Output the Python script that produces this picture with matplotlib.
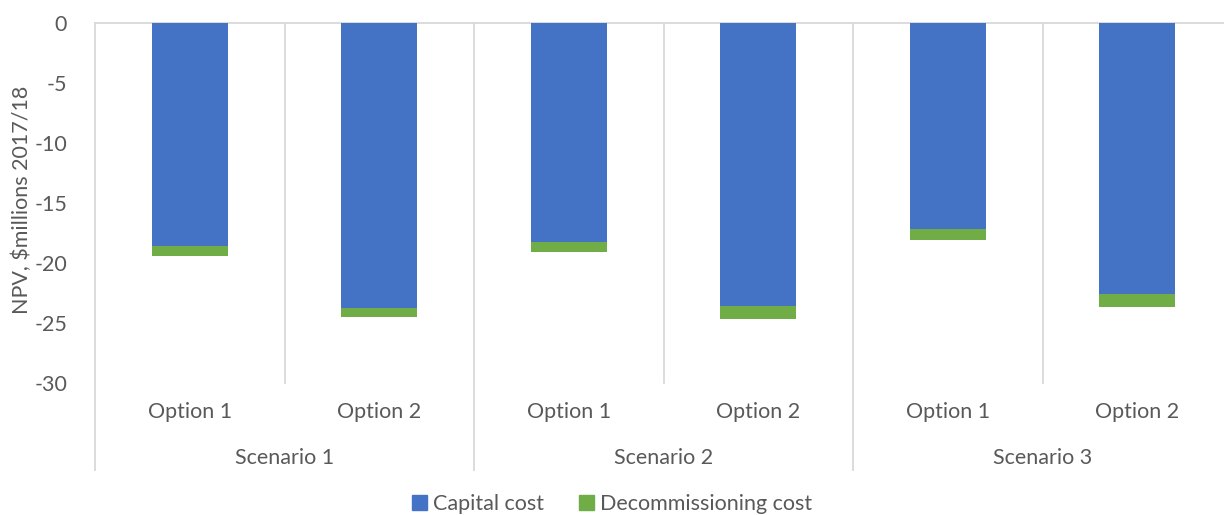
import matplotlib
matplotlib.use("Agg")
import matplotlib.pyplot as plt
from matplotlib.patches import Patch

plt.rcParams['font.family'] = ['Lato', 'DejaVu Sans']
plt.rcParams['axes.unicode_minus'] = False

# donnees
scenarios = ["Scenario 1", "Scenario 2", "Scenario 3"]
options = ["Option 1", "Option 2"]
capital_cost = [-18.6, -23.75, -18.25, -23.6, -17.2, -22.6]
decommissioning_cost = [-0.8, -0.75, -0.85, -1.05, -0.9, -1.05]
yticks = [0, -5, -10, -15, -20, -25, -30]

bleu = "#4472C4"
vert = "#70AD47"
gris_txt = "#595959"
gris_ligne = "#D9D9D9"
taille = 15.5

W, H = 1224, 515
fig = plt.figure(figsize=(W / 100, H / 100), dpi=100)
# axes de x=95 a x=1232 px, y=23 a 383 px
ax = fig.add_axes([95 / W, 1 - 383 / H, (1232 - 95) / W, 360 / H])

n = len(capital_cost)
x = list(range(n))
ax.bar(x, capital_cost, width=0.4, color=bleu, zorder=3)
ax.bar(x, decommissioning_cost, width=0.4, bottom=capital_cost, color=vert, zorder=3)

ax.set_xlim(-0.5, n - 0.5)
ax.set_ylim(-30, 0)
ax.set_yticks(yticks)
ax.set_yticklabels([str(v) for v in yticks], fontsize=taille, color=gris_txt)
ax.tick_params(axis='y', length=0, pad=20)
ax.set_xticks([])
for s in ax.spines.values():
    s.set_visible(False)

ax.set_ylabel("NPV, $millions 2017/18", fontsize=taille, color=gris_txt)
ax.yaxis.set_label_coords(-63 / 1137, 0.5 + 3 / 360)

tr = ax.get_xaxis_transform()
# ligne du zero
ax.plot([-0.5, n - 0.5], [1, 1], transform=tr, color=gris_ligne, lw=1.3, clip_on=False, zorder=2)
# separateurs
bas = -(470 - 383) / 360
ax.plot([-0.5, -0.5], [1, bas], transform=tr, color=gris_ligne, lw=1.3, clip_on=False)
for i in range(1, n):
    if i % 2 == 0:
        ax.plot([i - 0.5, i - 0.5], [1, bas], transform=tr, color=gris_ligne, lw=1.3, clip_on=False)
    else:
        ax.plot([i - 0.5, i - 0.5], [1, 0], transform=tr, color=gris_ligne, lw=1.3, clip_on=False)

# etiquettes options et scenarios
for i in range(n):
    ax.text(i, -(412 - 383) / 360, options[i % 2], transform=tr, ha='center', va='center',
            fontsize=taille, color=gris_txt)
for j, sc in enumerate(scenarios):
    ax.text(2 * j + 0.5, -(458 - 383) / 360, sc, transform=tr, ha='center', va='center',
            fontsize=taille, color=gris_txt)

handles = [Patch(color=bleu, label="Capital cost"), Patch(color=vert, label="Decommissioning cost")]
fig.legend(handles=handles, loc='center', bbox_to_anchor=(612 / W, 1 - 504 / H), ncol=2,
           frameon=False, fontsize=taille, handlelength=0.7, handleheight=0.7, handletextpad=0.3,
           columnspacing=1.6, labelcolor=gris_txt)

fig.savefig("out.png", dpi=100)
